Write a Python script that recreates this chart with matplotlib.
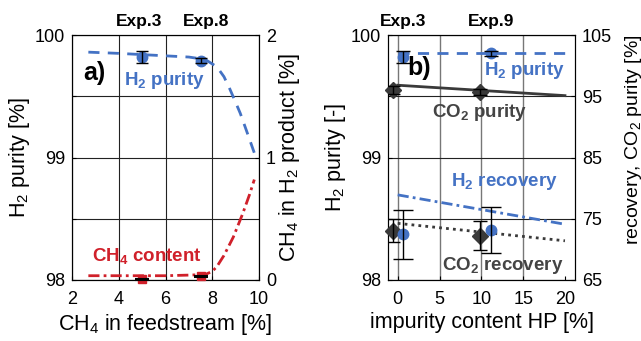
import matplotlib
matplotlib.use("Agg")
import matplotlib.pyplot as plt
import matplotlib.transforms as mtransforms

plt.rcParams['font.family'] = ['Liberation Sans', 'DejaVu Sans']
plt.rcParams['mathtext.fontset'] = 'custom'
plt.rcParams['mathtext.rm'] = 'Liberation Sans'
plt.rcParams['mathtext.it'] = 'Liberation Sans'
plt.rcParams['mathtext.bf'] = 'Liberation Sans:bold'

# ---------------- data: panel a ----------------
a_curve_x = [2.7, 4.0, 5.0, 6.0, 7.0, 7.7, 8.2, 8.5, 8.75, 9.0, 9.2, 9.5, 9.85]
a_h2_purity_curve = [99.86, 99.85, 99.84, 99.83, 99.82, 99.80, 99.74, 99.66, 99.56, 99.45, 99.36, 99.20, 99.01]
a_ch4_curve_x = [2.7, 4.0, 5.0, 6.0, 7.0, 7.7, 8.0, 8.2, 8.5, 8.9, 9.3, 9.6, 9.8]
a_ch4_curve = [0.035, 0.035, 0.035, 0.035, 0.04, 0.045, 0.07, 0.11, 0.20, 0.35, 0.54, 0.70, 0.82]
a_exp_x = [5.0, 7.5]
a_h2_purity_exp = [99.82, 99.79]
a_h2_purity_err = [0.05, 0.02]
a_ch4_exp = [0.005, 0.03]
a_ch4_err = [0.002, 0.002]
a_exp_labels = ["Exp.3", "Exp.8"]
a_exp_label_x = [4.85, 7.75]

# ---------------- data: panel b ----------------
b_line_x = [0, 20]
b_h2_purity_line = [99.85, 99.85]
b_co2_purity_line = [96.8, 95.1]
b_h2_recovery_line = [78.9, 74.1]
b_co2_recovery_line = [74.25, 71.4]
b_h2_exp_x = [0.67, 11.1]
b_co2_exp_x = [-0.6, 9.9]
b_h2_purity_exp = [99.82, 99.85]
b_h2_purity_err = [0.05, 0.02]
b_co2_purity_exp = [96.0, 95.75]
b_co2_purity_err = [0.7, 0.5]
b_h2_recovery_exp = [72.5, 73.2]
b_h2_recovery_err_lo = [4.0, 3.8]
b_h2_recovery_err_hi = [3.9, 3.8]
b_co2_recovery_exp = [73.05, 72.2]
b_co2_recovery_err_lo = [1.8, 2.3]
b_co2_recovery_err_hi = [1.85, 2.5]
b_exp_labels = ["Exp.3", "Exp.9"]
b_exp_label_x = [0.65, 11.2]

BLUE = '#4472C4'
RED = '#D0202A'
DARK = '#3A3A3A'
TEXTDARK = '#444444'

W, H = 641, 341
fig = plt.figure(figsize=(W / 100, H / 100), dpi=100)

def px_axes(x0, x1, y0, y1):
    return fig.add_axes([x0 / W, 1 - y1 / H, (x1 - x0) / W, (y1 - y0) / H])

TICK = 13
LAB = 15.5
ANN = 13.5
EXP = 12.5

def style_ticks(a, b):
    a.tick_params(axis='x', direction='in', labelsize=TICK, length=3, pad=8)
    a.tick_params(axis='y', direction='in', labelsize=TICK, length=3, pad=5)
    b.tick_params(axis='y', direction='in', labelsize=TICK, length=3, pad=5)

# ---------------- panel a ----------------
ax = px_axes(72, 259, 35, 280)
ax.set_xlim(2, 10)
ax.set_ylim(98, 100)
ax.set_xticks([2, 4, 6, 8, 10])
ax.set_yticks([98, 98.5, 99, 99.5, 100])
ax.set_yticklabels(['98', '', '99', '', '100'])
ax.grid(True, color='#222222', lw=0.8)
ax2 = ax.twinx()
ax2.set_ylim(0, 2)
ax2.set_yticks([0, 1, 2])
style_ticks(ax, ax2)

ax.plot(a_curve_x, a_h2_purity_curve, color=BLUE, lw=2, dashes=(4, 3), zorder=3)
ax.plot(a_exp_x, a_h2_purity_exp, 'o', color=BLUE, ms=7.5, zorder=4)
ax.errorbar(a_exp_x, a_h2_purity_exp, yerr=a_h2_purity_err, fmt='none', ecolor='black',
            elinewidth=1, capsize=4, capthick=1, zorder=5)
ax2.plot(a_ch4_curve_x, a_ch4_curve, color=RED, lw=2, dashes=(4, 1.5, 1, 1.5), zorder=3)
ax2.plot(a_exp_x, a_ch4_exp, 's', color=RED, ms=6, zorder=4, clip_on=False)
ax2.errorbar(a_exp_x, a_ch4_exp, yerr=a_ch4_err, fmt='none', ecolor='black',
             elinewidth=1, capsize=5, capthick=1.5, zorder=5, clip_on=False)

ax.set_xlabel('CH$_4$ in feedstream [%]', fontsize=LAB, labelpad=3)
ax.set_ylabel('H$_2$ purity [%]', fontsize=LAB, labelpad=2)
ax2.set_ylabel('CH$_4$ in H$_2$ product [%]', fontsize=LAB, labelpad=1)

ax.text(2.95, 99.69, 'a)', fontsize=18, fontweight='bold', ha='center', va='center')
ax.text(5.95, 99.63, r'H$_\mathbf{2}$ purity', fontsize=ANN, fontweight='bold', color=BLUE, ha='center', va='center')
ax.text(5.2, 98.2, r'CH$_\mathbf{4}$ content', fontsize=ANN, fontweight='bold', color=RED, ha='center', va='center')
tr = mtransforms.blended_transform_factory(ax.transData, ax.transAxes)
for xl, lab in zip(a_exp_label_x, a_exp_labels):
    ax.text(xl, 1.055, lab, transform=tr, fontsize=EXP, fontweight='bold', ha='center', va='center')

# ---------------- panel b ----------------
bx = px_axes(388, 575, 35, 280)
bx.set_xlim(-1.16, 21.2)
bx.set_ylim(98, 100)
bx.set_xticks([0, 5, 10, 15, 20])
bx.set_yticks([98, 98.5, 99, 99.5, 100])
bx.set_yticklabels(['98', '', '99', '', '100'])
bx.grid(True, axis='y', color='#222222', lw=0.8)
bx.grid(True, axis='x', color='#777777', lw=1.0)
bx.xaxis.get_gridlines()[-1].set_visible(False)
bx2 = bx.twinx()
bx2.set_ylim(65, 105)
bx2.set_yticks([65, 75, 85, 95, 105])
style_ticks(bx, bx2)

bx.plot(b_line_x, b_h2_purity_line, color=BLUE, lw=2, dashes=(4, 3), zorder=3)
bx.plot(b_h2_exp_x, b_h2_purity_exp, 'o', color=BLUE, ms=7.5, zorder=4)
bx.errorbar(b_h2_exp_x, b_h2_purity_exp, yerr=b_h2_purity_err, fmt='none', ecolor='black',
            elinewidth=1, capsize=5, capthick=1, zorder=5)

bx2.plot(b_line_x, b_co2_purity_line, color=DARK, lw=2, zorder=3)
bx2.plot(b_line_x, b_h2_recovery_line, color=BLUE, lw=2, dashes=(4, 1.5, 1, 1.5), zorder=3)
bx2.plot(b_line_x, b_co2_recovery_line, color=DARK, lw=2, dashes=(1, 1.5), zorder=3)
bx2.plot(b_co2_exp_x, b_co2_purity_exp, 'D', color=DARK, ms=8, zorder=4, clip_on=False)
bx2.errorbar(b_co2_exp_x, b_co2_purity_exp, yerr=b_co2_purity_err, fmt='none', ecolor='black',
             elinewidth=1, capsize=5, capthick=1, zorder=5)
bx2.plot(b_co2_exp_x, b_co2_recovery_exp, 'D', color=DARK, ms=8, zorder=4, clip_on=False)
bx2.errorbar(b_co2_exp_x, b_co2_recovery_exp, yerr=[b_co2_recovery_err_lo, b_co2_recovery_err_hi],
             fmt='none', ecolor='black', elinewidth=1, capsize=5, capthick=1, zorder=5)
bx2.plot(b_h2_exp_x, b_h2_recovery_exp, 'o', color=BLUE, ms=7.5, zorder=4)
bx2.errorbar(b_h2_exp_x, b_h2_recovery_exp, yerr=[b_h2_recovery_err_lo, b_h2_recovery_err_hi],
             fmt='none', ecolor='black', elinewidth=1, capsize=7, capthick=1, zorder=5)

bx.set_xlabel('impurity content HP [%]', fontsize=LAB, labelpad=3)
bx.set_ylabel('H$_2$ purity [-]', fontsize=LAB, labelpad=2)
fig.text(623 / W, 1 - 140 / H, 'recovery, CO$_2$ purity [%]', fontsize=14, rotation=90,
         ha='left', va='center')

bx.text(2.6, 99.73, 'b)', fontsize=18, fontweight='bold', ha='center', va='center')
bx.text(15.2, 99.71, r'H$_\mathbf{2}$ purity', fontsize=ANN, fontweight='bold', color=BLUE, ha='center', va='center')
bx.text(9.8, 99.37, r'CO$_\mathbf{2}$ purity', fontsize=ANN, fontweight='bold', color=TEXTDARK, ha='center', va='center')
bx.text(12.8, 98.8, r'H$_\mathbf{2}$ recovery', fontsize=ANN, fontweight='bold', color=BLUE, ha='center', va='center')
bx.text(12.6, 98.12, r'CO$_\mathbf{2}$ recovery', fontsize=ANN, fontweight='bold', color=TEXTDARK, ha='center', va='center')
trb = mtransforms.blended_transform_factory(bx.transData, bx.transAxes)
for xl, lab in zip(b_exp_label_x, b_exp_labels):
    bx.text(xl, 1.055, lab, transform=trb, fontsize=EXP, fontweight='bold', ha='center', va='center')

fig.savefig('out.png', dpi=100)
